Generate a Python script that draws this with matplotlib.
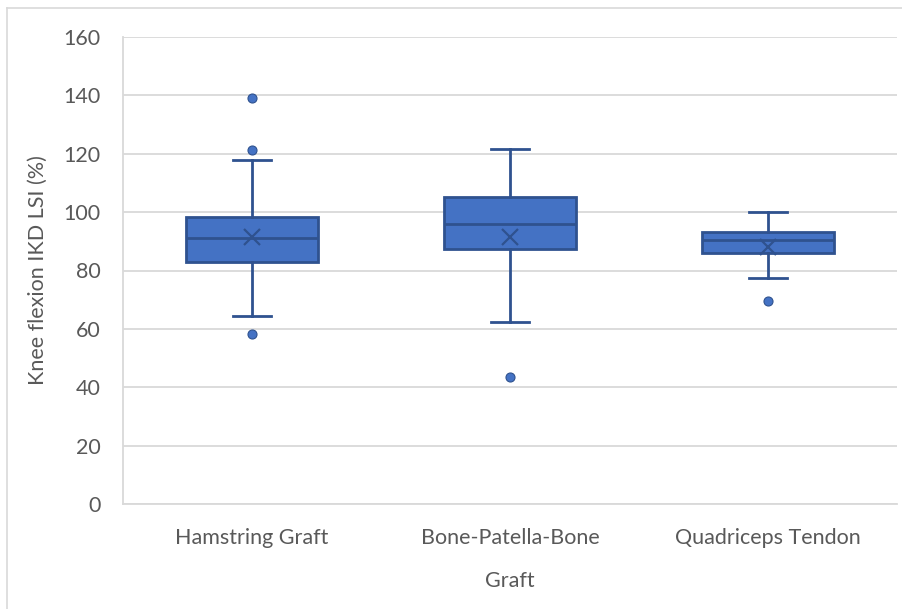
import matplotlib.pyplot as plt
from matplotlib.lines import Line2D

categories = ["Hamstring Graft", "Bone-Patella-Bone", "Quadriceps Tendon"]
whisker_low = [64.5, 62.2, 77.5]
q1 = [83.0, 87.5, 85.9]
median = [91.0, 95.8, 90.4]
q3 = [98.2, 105.1, 93.2]
whisker_high = [117.9, 121.7, 100.1]
mean = [91.6, 91.4, 88.1]
outliers = [[139.1, 121.3, 58.1], [43.4], [69.6]]

yticks = [0, 20, 40, 60, 80, 100, 120, 140, 160]

fill = "#4472C4"
edge = "#2F528F"
text_color = "#595959"
grid_color = "#D9D9D9"

plt.rcParams["font.family"] = ["Lato", "DejaVu Sans"]

fig = plt.figure(figsize=(9.02, 6.09), dpi=100)
ax = fig.add_axes([123 / 902, 1 - 504 / 609, (897 - 123) / 902, (504 - 37) / 609])

stats = []
for i, name in enumerate(categories):
    stats.append({
        "label": name,
        "whislo": whisker_low[i],
        "q1": q1[i],
        "med": median[i],
        "q3": q3[i],
        "whishi": whisker_high[i],
        "mean": mean[i],
        "fliers": outliers[i],
    })

ax.bxp(
    stats,
    positions=[0, 1, 2],
    widths=0.515,
    capwidths=0.15,
    patch_artist=True,
    showmeans=True,
    boxprops=dict(facecolor=fill, edgecolor=edge, linewidth=2),
    medianprops=dict(color=edge, linewidth=2),
    whiskerprops=dict(color=edge, linewidth=2),
    capprops=dict(color=edge, linewidth=2),
    meanprops=dict(marker="x", markeredgecolor=edge, markersize=11, markeredgewidth=1.6),
    flierprops=dict(marker="o", markerfacecolor=fill, markeredgecolor=edge, markersize=6.5, markeredgewidth=0.8),
    zorder=3,
)

ax.set_xlim(-0.5, 2.5)
ax.set_ylim(0, 160)
ax.set_yticks(yticks)
ax.yaxis.grid(True, color=grid_color, linewidth=1.3, zorder=0)
ax.set_axisbelow(True)

for side in ["top", "right"]:
    ax.spines[side].set_visible(False)
for side in ["left", "bottom"]:
    ax.spines[side].set_color(grid_color)
    ax.spines[side].set_linewidth(1.3)

ax.tick_params(axis="both", length=0, labelsize=15.5, colors=text_color)
ax.tick_params(axis="y", pad=16)
ax.tick_params(axis="x", pad=17)

ax.set_xlabel("Graft", fontsize=15.5, color=text_color, labelpad=17)
ax.set_ylabel("Knee flexion IKD LSI (%)", fontsize=15.5, color=text_color, labelpad=11)

# thin chart-area border (top and left visible)
fig.add_artist(Line2D([7.5 / 902, 7.5 / 902], [0, 1 - 7.5 / 609], transform=fig.transFigure, color=grid_color, linewidth=1.2))
fig.add_artist(Line2D([7.5 / 902, 1], [1 - 7.5 / 609, 1 - 7.5 / 609], transform=fig.transFigure, color=grid_color, linewidth=1.2))

fig.savefig("out.png", dpi=100)
